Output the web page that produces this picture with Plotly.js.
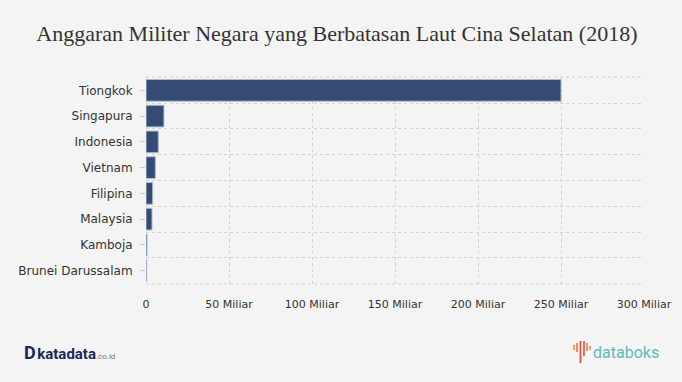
<!DOCTYPE html>
<html>
<head>
<meta charset="utf-8">
<script src="https://cdn.plot.ly/plotly-3.0.1.min.js"></script>
<style>
html,body{margin:0;padding:0;background:#f4f4f4;}
#chart{width:682px;height:382px;}
</style>
</head>
<body>
<div id="chart"></div>
<script>
const countries = ["Tiongkok","Singapura","Indonesia","Vietnam","Filipina","Malaysia","Kamboja","Brunei Darussalam"];
const budgetMiliar = [250, 10.8, 7.4, 5.6, 4.0, 3.6, 0.6, 0.4];
const tickValues = [0, 50, 100, 150, 200, 250, 300];
const tickLabels = ["0", "50 Miliar", "100 Miliar", "150 Miliar", "200 Miliar", "250 Miliar", "300 Miliar"];
const chartTitle = "Anggaran Militer Negara yang Berbatasan Laut Cina Selatan (2018)";

const traces = [
  {
    type: "bar",
    orientation: "h",
    x: budgetMiliar,
    y: countries,
    yaxis: "y",
    marker: {color: "#344b73", line: {color: "#a9b6cc", width: 1}},
    width: 0.84,
    hoverinfo: "x+y"
  },
  {
    type: "scatter",
    mode: "markers",
    x: budgetMiliar,
    y: countries,
    yaxis: "y2",
    marker: {opacity: 0, size: 1},
    hoverinfo: "skip",
    showlegend: false
  }
];

const W = 682, H = 382, M = {l: 146, r: 38, t: 77, b: 98};
const PW = W - M.l - M.r, PH = H - M.t - M.b;
const px = v => (v - M.l) / PW;
const py = v => (H - M.b - v) / PH;

const gridC = "#d2d2d2";
const gridDash = "3px,3px";
const logoY = py(352);

// databoks icon strokes (decoration): [x, yTop, yBottom, color]
const iconStrokes = [
  [574, 345, 350, "#f29a5e"],
  [577, 343, 352, "#ef7f55"],
  [580.5, 341, 363, "#e5514a"],
  [584, 341, 356, "#e9604c"],
  [587, 343, 351, "#f08a5a"],
  [590, 346, 350, "#f29a5e"]
];
const iconShapes = iconStrokes.map(s => ({
  type: "line", xref: "paper", yref: "paper",
  x0: px(s[0]), x1: px(s[0]), y0: py(s[1]), y1: py(s[2]),
  line: {color: s[3], width: 1.8}
}));

const layout = {
  width: W,
  height: H,
  paper_bgcolor: "#f4f4f4",
  plot_bgcolor: "#f4f4f4",
  showlegend: false,
  margin: M,
  title: {
    text: chartTitle,
    font: {family: "Liberation Serif, serif", size: 22, color: "#333333"},
    x: 0.494, xanchor: "center", y: 0.913, yanchor: "middle", yref: "container"
  },
  xaxis: {
    range: [0, 300],
    tickvals: tickValues,
    ticktext: tickLabels,
    showgrid: true,
    gridcolor: gridC,
    griddash: gridDash,
    gridwidth: 1,
    zeroline: false,
    showline: false,
    ticks: "",
    ticklabelstandoff: 12,
    tickfont: {family: "DejaVu Sans, Verdana, sans-serif", size: 11, color: "#333333"},
    fixedrange: true
  },
  yaxis: {
    type: "category",
    categoryorder: "array",
    categoryarray: countries,
    autorange: "reversed",
    tickson: "boundaries",
    showgrid: true,
    gridcolor: gridC,
    griddash: gridDash,
    showticklabels: false,
    ticks: "",
    zeroline: false,
    fixedrange: true
  },
  yaxis2: {
    type: "category",
    overlaying: "y",
    matches: "y",
    side: "left",
    categoryorder: "array",
    categoryarray: countries,
    showgrid: false,
    ticks: "outside",
    ticklen: 5,
    tickcolor: "#cccccc",
    ticklabelstandoff: 5,
    tickfont: {family: "DejaVu Sans, Verdana, sans-serif", size: 12, color: "#333333"},
    zeroline: false,
    fixedrange: true
  },
  shapes: [
    {type:"line", xref:"paper", yref:"paper", x0:0, x1:1, y0:1, y1:1, layer:"below", line:{color:gridC, width:1, dash:gridDash}},
    {type:"line", xref:"paper", yref:"paper", x0:0, x1:1, y0:0, y1:0, layer:"below", line:{color:gridC, width:1, dash:gridDash}}
  ].concat(iconShapes),
  annotations: [
    {
      xref: "paper", yref: "paper", x: px(22), y: logoY, xanchor: "left", yanchor: "middle",
      showarrow: false,
      text: '<b><span style="font-size:18px">D</span>&#8202;katadata</b><span style="font-size:8px;color:#777">.co.id</span>',
      font: {family: "Roboto, sans-serif", size: 15, color: "#1b2a58"}
    },
    {
      xref: "paper", yref: "paper", x: px(661), y: logoY, xanchor: "right", yanchor: "middle",
      showarrow: false,
      text: 'databoks',
      font: {family: "Roboto, sans-serif", size: 16, color: "#5bbdb7"}
    }
  ]
};

Plotly.newPlot("chart", traces, layout, {displayModeBar: false, staticPlot: true});
</script>
</body>
</html>
